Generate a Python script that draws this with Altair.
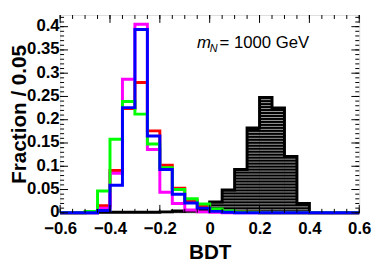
import altair as alt
import pandas as pd

# ---- data (bin left edges, width 0.05) ----
edges = [round(-0.6 + 0.05 * i, 2) for i in range(25)]

red = [0, 0, 0.001, 0.015, 0.091, 0.224, 0.280, 0.176, 0.102, 0.053, 0.026, 0.015,
       0.006, 0.003, 0.002, 0.001, 0, 0, 0, 0, 0, 0, 0, 0]
magenta = [0, 0, 0, 0.010, 0.085, 0.287, 0.405, 0.136, 0.044, 0.020, 0.006, 0.002,
           0.001, 0, 0, 0, 0, 0, 0, 0, 0, 0, 0, 0]
green = [0, 0, 0.003, 0.047, 0.158, 0.239, 0.212, 0.148, 0.097, 0.050, 0.030, 0.019,
         0.008, 0.004, 0.002, 0.001, 0, 0, 0, 0, 0, 0, 0, 0]
blue = [0, 0, 0, 0.005, 0.059, 0.226, 0.394, 0.165, 0.093, 0.040, 0.021, 0.010,
        0.003, 0.001, 0, 0, 0, 0, 0, 0, 0, 0, 0, 0]
signal = [0, 0, 0, 0.001, 0.001, 0.001, 0.001, 0.001, 0.002, 0.004, 0.005, 0.008,
          0.023, 0.049, 0.093, 0.182, 0.248, 0.225, 0.121, 0.020, 0, 0, 0, 0]

x_major = [-0.6, -0.4, -0.2, 0.0, 0.2, 0.4, 0.6]
x_minor = [round(-0.6 + 0.05 * i, 2) for i in range(25)]
y_major = [round(0.05 * i, 2) for i in range(9)]
y_minor = [round(0.01 * i, 2) for i in range(43)]

W, H = 304, 201
FONT = "Liberation Sans, Arial, Helvetica, sans-serif"
XDOM = [-0.6, 0.6]
YDOM = [0, 0.425]


def step_df(vals):
    return pd.DataFrame({"x": edges, "y": list(vals) + [vals[-1]]})


xs = alt.Scale(domain=XDOM, nice=False, zero=False)
ys = alt.Scale(domain=YDOM, nice=False, zero=False)

x_axis = alt.Axis(values=x_major, ticks=False, grid=False, domain=False,
                  labelExpr="datum.value == 0 ? '0' : replace(format(datum.value, '.1f'), '-', '\u2212')",
                  labelFont=FONT, labelFontSize=17, labelFontWeight="bold", labelColor="black",
                  labelPadding=8, labelFlush=False,
                  title="BDT", titleFont=FONT, titleFontSize=21, titleFontWeight="bold",
                  titleColor="black", titleBaseline="alphabetic", titleY=46)
y_axis = alt.Axis(values=y_major, ticks=False, grid=False, domain=False,
                  labelExpr="format(datum.value, '.2~f')",
                  labelFont=FONT, labelFontSize=17, labelFontWeight="bold", labelColor="black",
                  labelPadding=1, labelFlush=False, labelOffset=-1,
                  title="Fraction / 0.05", titleFont=FONT, titleFontSize=21, titleFontWeight="bold",
                  titleColor="black", titleBaseline="alphabetic", titleX=-35)


def X(field="x"):
    return alt.X(f"{field}:Q", scale=xs, axis=x_axis)


def Y(field="y"):
    return alt.Y(f"{field}:Q", scale=ys, axis=y_axis)


# signal filled histogram
sig_area = alt.Chart(step_df(signal)).mark_area(interpolate="step-after", color="black").encode(
    x=X(), y=Y())

# hatch stripes inside signal histogram
sp = 0.0064
rows = []
for i, h in enumerate(signal):
    k = 1
    while k * sp < h - 0.5 * sp:
        rows.append({"x": edges[i], "x2": edges[i + 1], "y": k * sp})
        k += 1
hatch = alt.Chart(pd.DataFrame(rows)).mark_rule(color="#9a9a9a", strokeWidth=1).encode(
    x=X(), x2="x2:Q", y=Y())
sig_line = alt.Chart(step_df(signal)).mark_line(interpolate="step-after", color="black",
                                                strokeWidth=3).encode(x=X(), y=Y())


def hist_line(vals, color):
    return alt.Chart(step_df(vals)).mark_line(interpolate="step-after", color=color,
                                              strokeWidth=3).encode(x=X(), y=Y())


lines = [hist_line(red, "#ff0000"), hist_line(magenta, "#ff00ff"),
         hist_line(green, "#00ff00"), hist_line(blue, "#0000ff")]


# ticks (inward, on all four sides)
def xticks(vals, length):
    d = pd.DataFrame({"v": vals})
    b = alt.Chart(d).mark_rule(color="black", strokeWidth=1).encode(
        x=X("v"), y=alt.value(H), y2=alt.value(H - length))
    t = alt.Chart(d).mark_rule(color="black", strokeWidth=1).encode(
        x=X("v"), y=alt.value(0), y2=alt.value(length))
    return [b, t]


def yticks(vals, length):
    d = pd.DataFrame({"v": vals})
    l = alt.Chart(d).mark_rule(color="black", strokeWidth=1).encode(
        y=Y("v"), x=alt.value(0), x2=alt.value(length))
    r = alt.Chart(d).mark_rule(color="black", strokeWidth=1).encode(
        y=Y("v"), x=alt.value(W), x2=alt.value(W - length))
    return [l, r]


ticks = xticks(x_minor, 4) + xticks(x_major, 8) + yticks(y_minor, 4) + yticks(y_major, 8)

# annotation m_N = 1000 GeV
t_m = alt.Chart(pd.DataFrame({"t": ["m"]})).mark_text(
    font=FONT, fontSize=17, fontStyle="italic", align="left", baseline="alphabetic", color="black"
).encode(x=alt.value(139), y=alt.value(34), text="t:N")
t_n = alt.Chart(pd.DataFrame({"t": ["N"]})).mark_text(
    font=FONT, fontSize=11, fontStyle="italic", align="left", baseline="alphabetic", color="black"
).encode(x=alt.value(152), y=alt.value(38), text="t:N")
t_rest = alt.Chart(pd.DataFrame({"t": ["= 1000 GeV"]})).mark_text(
    font=FONT, fontSize=17, align="left", baseline="alphabetic", color="black"
).encode(x=alt.value(162), y=alt.value(34), text="t:N")

chart = alt.layer(sig_area, hatch, sig_line, *lines, *ticks, t_m, t_n, t_rest).properties(
    width=W, height=H,
    padding={"left": 53, "top": 5, "right": 15, "bottom": 55},
    autosize=alt.AutoSizeParams(type="none"),
).configure_view(stroke="black", strokeWidth=2).configure(background="white")

chart.save("out.html", embed_options={"renderer": "svg", "actions": False})
